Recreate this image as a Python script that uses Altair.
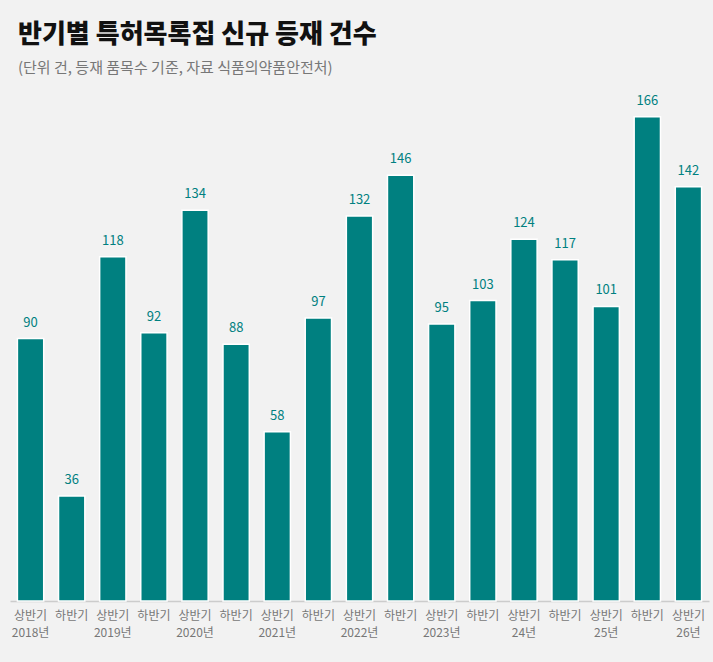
import altair as alt
import pandas as pd

halves = ["상반기", "하반기", "상반기", "하반기", "상반기", "하반기", "상반기", "하반기",
          "상반기", "하반기", "상반기", "하반기", "상반기", "하반기", "상반기", "하반기", "상반기"]
years = ["2018년", "", "2019년", "", "2020년", "", "2021년", "", "2022년", "",
         "2023년", "", "24년", "", "25년", "", "26년"]
values = [90, 36, 118, 92, 134, 88, 58, 97, 132, 146, 95, 103, 124, 117, 101, 166, 142]

df = pd.DataFrame({"idx": list(range(len(values))), "value": values})

label_arr = "[" + ",".join(
    "[" + ",".join(f"'{t}'" for t in ([h, y] if y else [h])) + "]"
    for h, y in zip(halves, years)
) + "]"

FONT = "Noto Sans CJK KR"
TEAL = "#008080"

base = alt.Chart(df).encode(
    x=alt.X("idx:O", title=None,
            scale=alt.Scale(paddingInner=0.36, paddingOuter=0.18),
            axis=alt.Axis(labelExpr=f"{label_arr}[datum.value]", labelAngle=0,
                          labelFont=FONT, labelFontSize=12, labelColor="#777777",
                          labelPadding=9, labelLineHeight=17, ticks=False,
                          domainColor="#cccccc", domainWidth=1.5)),
    y=alt.Y("value:Q", title=None, scale=alt.Scale(domain=[0, 180]), axis=None),
)

bars = base.mark_bar(color=TEAL, stroke="white", strokeWidth=1.5)
labels = base.mark_text(dy=-16, color=TEAL, font=FONT, fontSize=13).encode(text="value:Q")

chart = (bars + labels).properties(
    width=699, height=525,
    background="#f2f2f2",
    padding={"left": 10, "top": 22, "right": 4, "bottom": 30},
    title=alt.TitleParams(
        text="반기별 특허목록집 신규 등재 건수",
        subtitle="(단위 건, 등재 품목수 기준, 자료 식품의약품안전처)",
        anchor="start", dx=8, font=FONT, fontSize=26, fontWeight=900, color="#111111",
        subtitleFont=FONT, subtitleFontSize=15, subtitleColor="#777777",
        subtitlePadding=13, offset=0,
    ),
).configure_view(stroke=None)

chart.save("out.html", embed_options={"renderer": "svg", "actions": False})
